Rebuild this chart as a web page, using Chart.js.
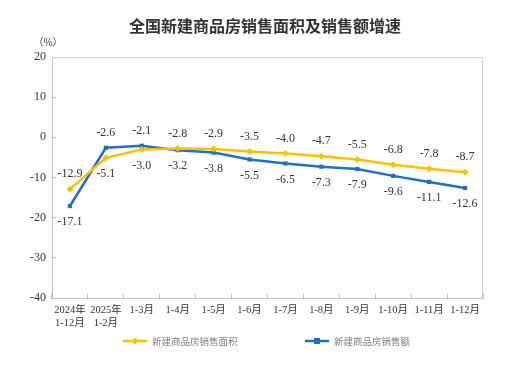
<!DOCTYPE html>
<html>
<head>
<meta charset="utf-8">
<script src="https://cdn.jsdelivr.net/npm/chart.js@4"></script>
<style>
html,body{margin:0;padding:0;background:#fff;}
#wrap{width:508px;height:368px;position:relative;}
</style>
</head>
<body>
<div id="wrap"><canvas id="c" width="508" height="368"></canvas></div>
<script>
const categories = [['2024年','1-12月'],['2025年','1-2月'],'1-3月','1-4月','1-5月','1-6月','1-7月','1-8月','1-9月','1-10月','1-11月','1-12月'];
const areaGrowth = [-12.9,-5.1,-3.0,-2.8,-2.9,-3.5,-4.0,-4.7,-5.5,-6.8,-7.8,-8.7];
const salesGrowth = [-17.1,-2.6,-2.1,-3.2,-3.8,-5.5,-6.5,-7.3,-7.9,-9.6,-11.1,-12.6];
const seriesNames = ['新建商品房销售面积','新建商品房销售额'];
const titleText = '全国新建商品房销售面积及销售额增速';
const unitText = '（%）';

const YELLOW = '#ffc000';
const BLUE = '#1f6fc6';
const SERIF = '"Liberation Serif","Times New Roman","Noto Sans CJK SC",serif';
const CJK = '"Noto Sans CJK SC","Liberation Serif",sans-serif';

const extras = {
  id: 'extras',
  beforeDraw(chart) {
    const {ctx, chartArea: a} = chart;
    ctx.save();
    ctx.strokeStyle = '#d0d0d0';
    ctx.lineWidth = 1;
    ctx.beginPath();
    ctx.moveTo(a.left, a.top + 0.5);
    ctx.lineTo(a.right - 0.5, a.top + 0.5);
    ctx.lineTo(a.right - 0.5, a.bottom);
    ctx.stroke();
    ctx.restore();
  },
  afterDraw(chart) {
    const {ctx} = chart;
    ctx.save();
    ctx.fillStyle = '#333333';
    ctx.font = 'bold 16px ' + CJK;
    ctx.textAlign = 'center';
    ctx.textBaseline = 'middle';
    ctx.fillText(titleText, 265, 26);
    ctx.font = '10px ' + CJK;
    ctx.fillStyle = '#404040';
    ctx.fillText(unitText, 48, 42);

    const ds = chart.data.datasets;
    ctx.font = '12px ' + SERIF;
    ctx.fillStyle = '#333333';
    ctx.textAlign = 'center';
    ctx.textBaseline = 'middle';
    ds.forEach((d, di) => {
      const meta = chart.getDatasetMeta(di);
      const other = ds[1 - di].data;
      meta.data.forEach((pt, i) => {
        const v = d.data[i];
        const above = v >= other[i];
        const y = above ? pt.y - 15 : pt.y + 16;
        ctx.fillText(v.toFixed(1), pt.x, y);
      });
    });

    const items = [{x: 123, ds: 0}, {x: 305, ds: 1}];
    const ly = 341;
    items.forEach(it => {
      const d = ds[it.ds];
      ctx.strokeStyle = d.borderColor;
      ctx.lineWidth = 2.5;
      ctx.beginPath();
      ctx.moveTo(it.x, ly);
      ctx.lineTo(it.x + 24, ly);
      ctx.stroke();
      ctx.fillStyle = d.borderColor;
      const cx = it.x + 12;
      if (d.pointStyle === 'rectRot') {
        ctx.beginPath();
        ctx.moveTo(cx, ly - 3.5); ctx.lineTo(cx + 3.5, ly); ctx.lineTo(cx, ly + 3.5); ctx.lineTo(cx - 3.5, ly);
        ctx.closePath(); ctx.fill();
      } else {
        ctx.fillRect(cx - 3, ly - 3, 6, 6);
      }
      ctx.fillStyle = '#808080';
      ctx.font = '9.5px ' + CJK;
      ctx.textAlign = 'left';
      ctx.textBaseline = 'middle';
      ctx.fillText(d.label, it.x + 29, ly + 0.5);
    });
    ctx.restore();
  }
};

new Chart(document.getElementById('c'), {
  type: 'line',
  data: {
    labels: categories,
    datasets: [
      {label: seriesNames[0], data: areaGrowth, borderColor: YELLOW, backgroundColor: YELLOW,
       borderWidth: 2.5, pointStyle: 'rectRot', pointRadius: 3.5, pointBorderWidth: 0, tension: 0},
      {label: seriesNames[1], data: salesGrowth, borderColor: BLUE, backgroundColor: BLUE,
       borderWidth: 2.5, pointStyle: 'rect', pointRadius: 3, pointBorderWidth: 0, tension: 0}
    ]
  },
  options: {
    responsive: false,
    animation: false,
    devicePixelRatio: 1,
    layout: {padding: {top: 57, right: 25, bottom: 0, left: 0}},
    plugins: {legend: {display: false}, title: {display: false}, tooltip: {enabled: false}},
    scales: {
      x: {
        offset: true,
        grid: {offset: true, drawOnChartArea: false, drawTicks: true, tickLength: -4, tickColor: '#c0c0c0'},
        border: {color: '#c0c0c0', width: 1},
        ticks: {padding: 10, color: '#333333', font: {family: SERIF, size: 10.5}, maxRotation: 0, autoSkip: false},
        afterFit(s) { s.height = 70; }
      },
      y: {
        min: -40, max: 20,
        ticks: {stepSize: 10, padding: 10, color: '#333333', font: {family: SERIF, size: 12}},
        grid: {drawOnChartArea: false, drawTicks: true, tickLength: -4, tickColor: '#c0c0c0'},
        border: {color: '#c0c0c0', width: 1},
        afterFit(s) { s.width = 52; }
      }
    }
  },
  plugins: [extras]
});
</script>
</body>
</html>
